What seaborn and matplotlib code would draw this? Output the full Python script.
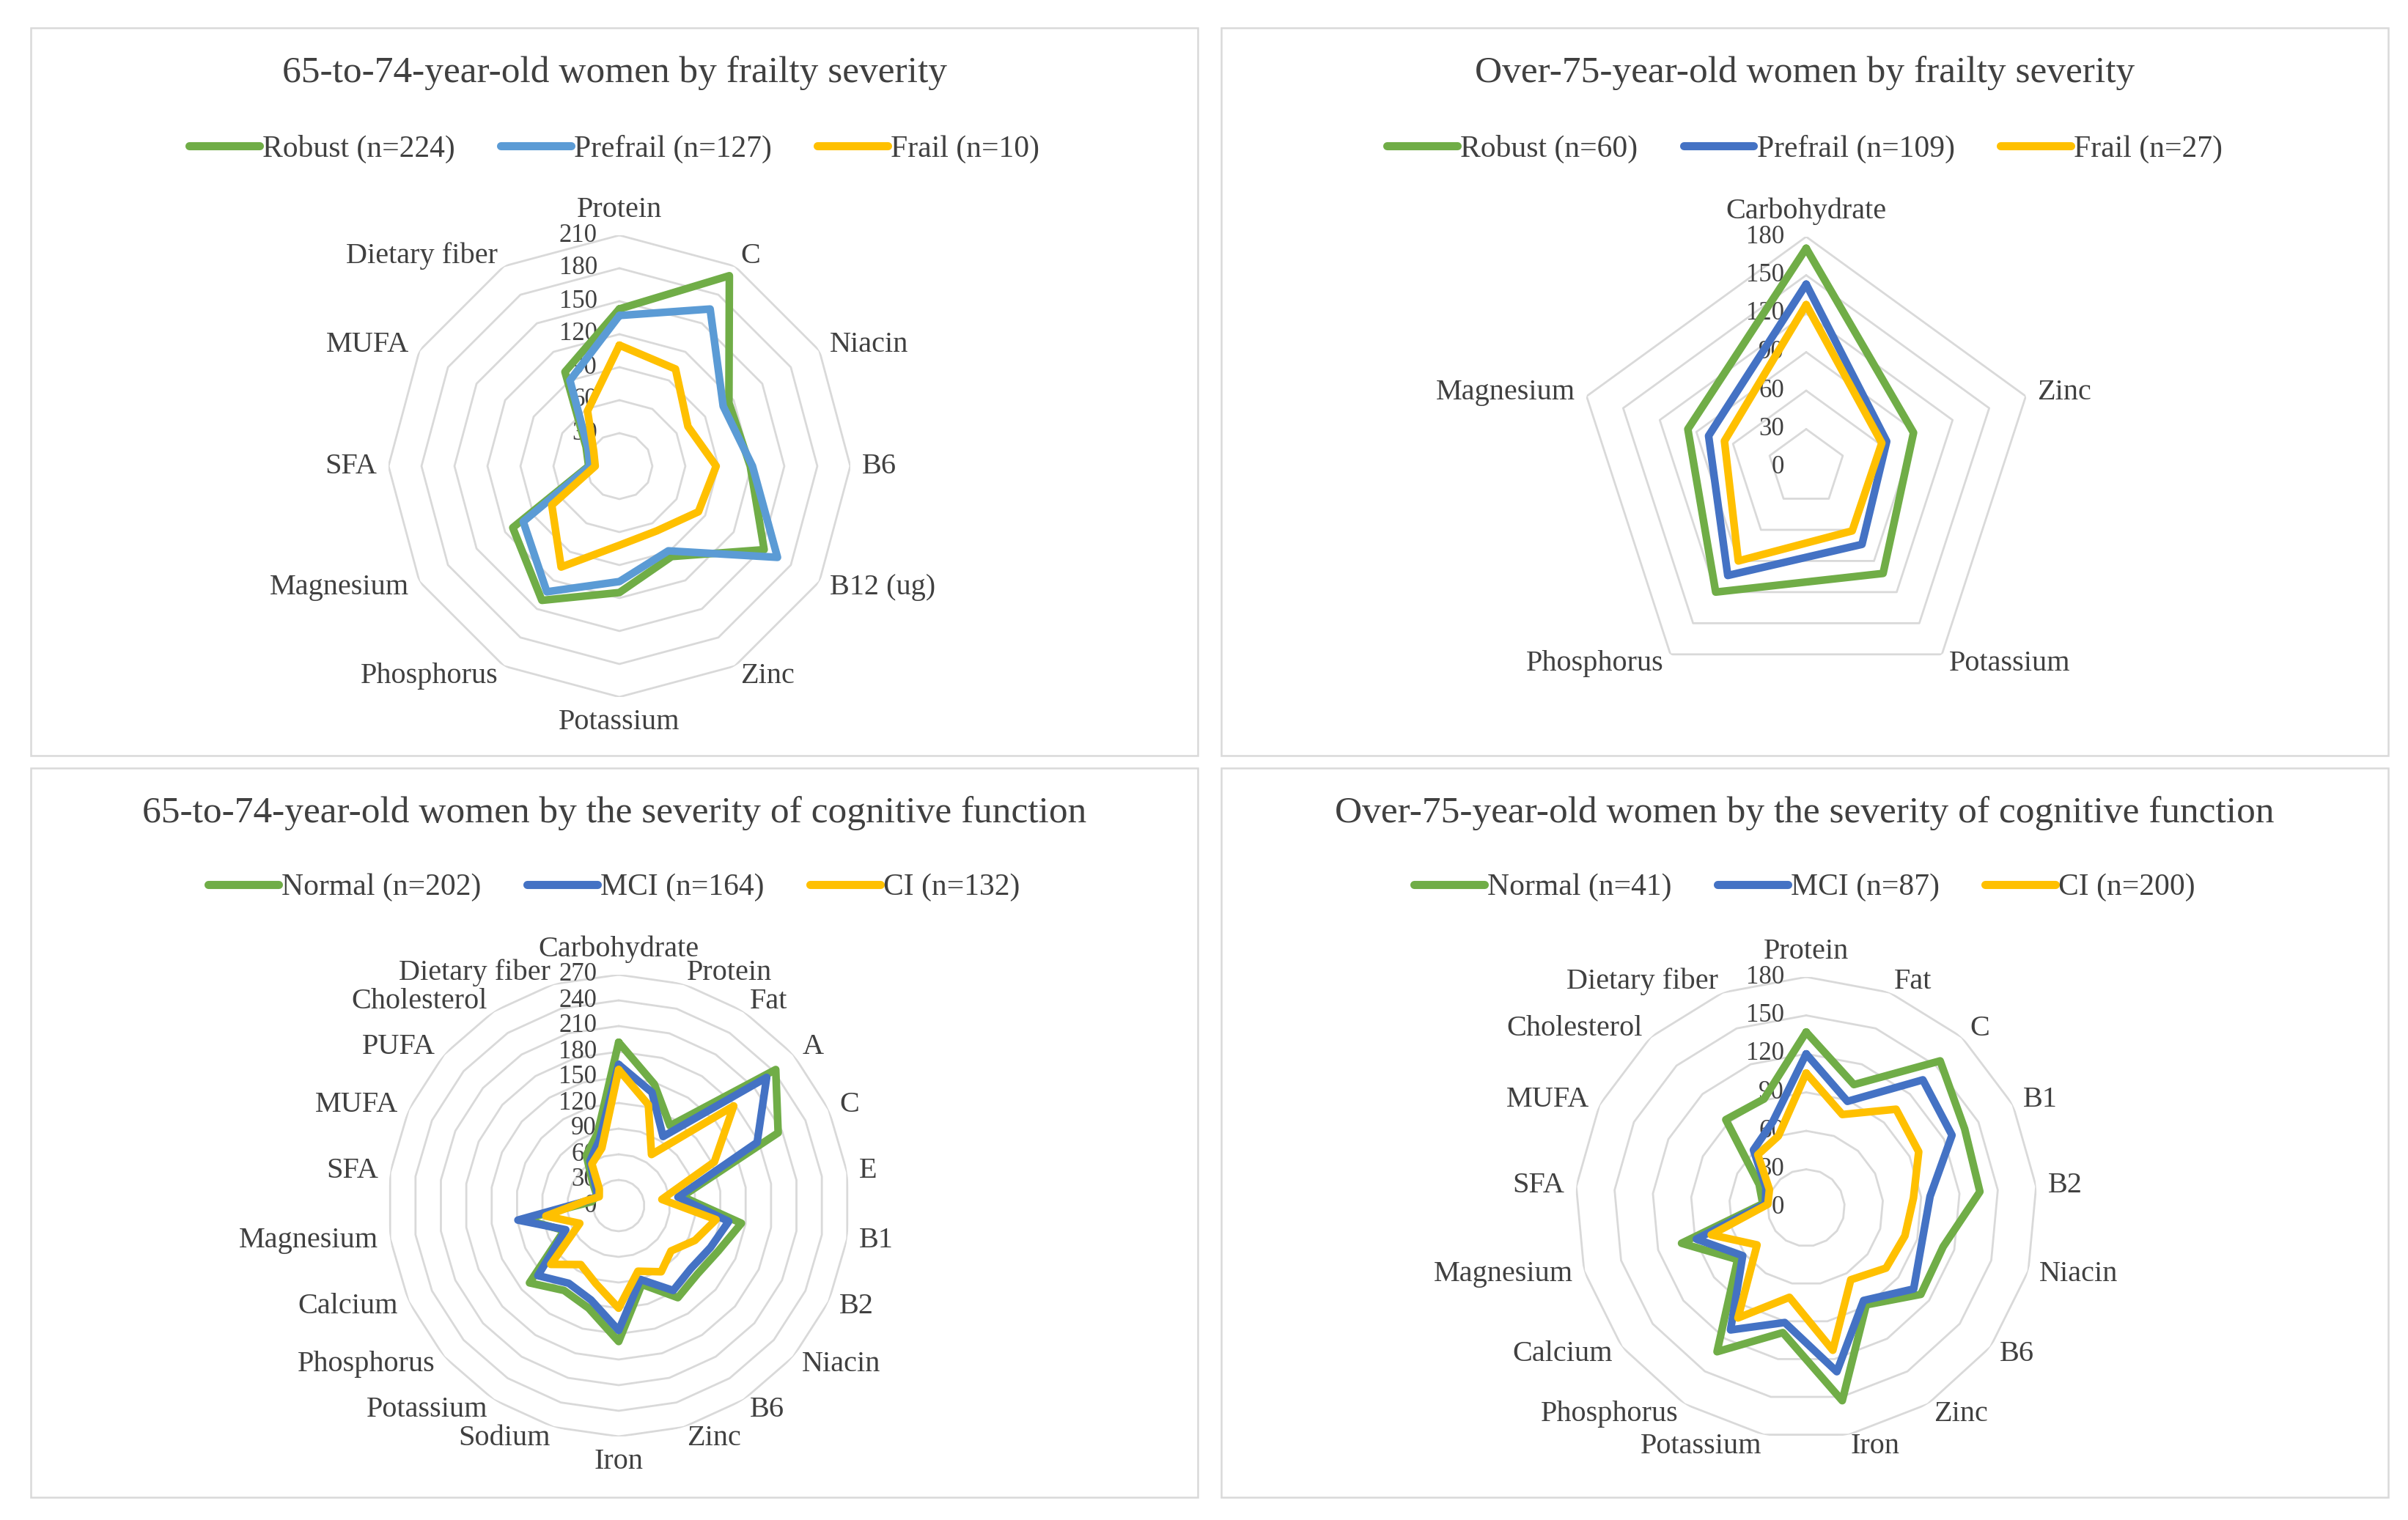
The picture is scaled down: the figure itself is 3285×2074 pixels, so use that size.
import numpy as np
import pandas as pd
import matplotlib
matplotlib.use("Agg")
import matplotlib.pyplot as plt
from matplotlib.lines import Line2D
from matplotlib.patches import Rectangle
from matplotlib.transforms import offset_copy
import seaborn as sns

# =====================
# DATA (% of intake standard)
# =====================
# panel 1: 65-74, frailty
cats_1 = ["Protein", "C", "Niacin", "B6", "B12 (ug)", "Zinc", "Potassium",
          "Phosphorus", "Magnesium", "SFA", "MUFA", "Dietary fiber"]
robust_1 = [143, 200, 115, 119, 152, 95, 115, 141, 112, 28, 35, 99]
prefrail_1 = [137, 165, 109, 121, 166, 89, 105, 132, 101, 27, 33, 90]
frail_1 = [110, 102, 72, 88, 83, 68, 72, 106, 71, 22, 27, 58]
names_1 = ["Robust (n=224)", "Prefrail (n=127)", "Frail (n=10)"]

# panel 2: over 75, frailty
cats_2 = ["Carbohydrate", "Zinc", "Potassium", "Phosphorus", "Magnesium"]
robust_2 = [171, 88, 102, 120, 97]
prefrail_2 = [143, 66, 74, 104, 80]
frail_2 = [127, 62, 61, 90, 67]
names_2 = ["Robust (n=60)", "Prefrail (n=109)", "Frail (n=27)"]

# panel 3: 65-74, cognitive function
cats_3 = ["Carbohydrate", "Protein", "Fat", "A", "C", "E", "B1", "B2", "Niacin",
          "B6", "Zinc", "Iron", "Sodium", "Potassium", "Phosphorus", "Calcium",
          "Magnesium", "SFA", "MUFA", "PUFA", "Cholesterol", "Dietary fiber"]
normal_3 = [191, 148, 111, 243, 205, 75, 145, 128, 122, 128, 96, 159, 125, 118,
            138, 70, 112, 32, 28, 40, 70, 88]
mci_3 = [165, 138, 96, 229, 178, 70, 130, 118, 112, 118, 90, 146, 115, 108,
         125, 68, 119, 38, 27, 36, 62, 80]
ci_3 = [159, 123, 71, 178, 123, 51, 115, 98, 81, 92, 80, 120, 95, 82,
        105, 50, 86, 39, 25, 30, 58, 70]
names_3 = ["Normal (n=202)", "MCI (n=164)", "CI (n=132)"]

# panel 4: over 75, cognitive function
cats_4 = ["Protein", "Fat", "C", "B1", "B2", "Niacin", "B6", "Zinc", "Iron",
          "Potassium", "Phosphorus", "Calcium", "Magnesium", "SFA", "MUFA",
          "Cholesterol", "Dietary fiber"]
normal_4 = [137, 103, 155, 138, 136, 111, 112, 89, 153, 99, 132, 67, 101, 34, 41, 93, 91]
mci_4 = [120, 89, 135, 127, 97, 94, 105, 85, 130, 91, 112, 62, 89, 32, 35, 61, 72]
ci_4 = [105, 78, 104, 98, 84, 80, 78, 66, 113, 71, 101, 48, 77, 30, 32, 56, 60]
names_4 = ["Normal (n=41)", "MCI (n=87)", "CI (n=200)"]

titles = ["65-to-74-year-old women by frailty severity",
          "Over-75-year-old women by frailty severity",
          "65-to-74-year-old women by the severity of cognitive function",
          "Over-75-year-old women by the severity of cognitive function"]
rmax_list = [210, 180, 270, 180]

GREEN = "#70AD47"
BLUE_LIGHT = "#5B9BD5"
BLUE = "#4472C4"
YELLOW = "#FFC000"
GRID = "#D9D9D9"
TXT = "#404040"

# =====================
# FIGURE
# =====================
sns.set_theme(style="white")
plt.rcParams["font.family"] = ["Liberation Serif", "DejaVu Serif"]

W, H = 3285, 2074
fig = plt.figure(figsize=(W / 100, H / 100), dpi=100)
fig.patch.set_facecolor("white")

# panel boxes (pixels: left, top, right, bottom), radar centres and radius
boxes = [(42, 38, 1634, 1031), (1666, 38, 3258, 1031),
         (42, 1048, 1634, 2043), (1666, 1048, 3258, 2043)]
centres = [(845, 636), (2464, 638), (844, 1645), (2464, 1648)]
title_y = [100, 100, 1110, 1110]
legend_y = [203, 203, 1211, 1211]
R = 315

panels = [
    (cats_1, [robust_1, prefrail_1, frail_1], names_1, [GREEN, BLUE_LIGHT, YELLOW]),
    (cats_2, [robust_2, prefrail_2, frail_2], names_2, [GREEN, BLUE, YELLOW]),
    (cats_3, [normal_3, mci_3, ci_3], names_3, [GREEN, BLUE, YELLOW]),
    (cats_4, [normal_4, mci_4, ci_4], names_4, [GREEN, BLUE, YELLOW]),
]


def radar(ax, cats, series, names, colors, rmax):
    n = len(cats)
    theta = np.linspace(0, 2 * np.pi, n, endpoint=False)
    closed = np.append(theta, theta[0])

    # polygon grid rings
    for v in range(30, rmax + 1, 30):
        ax.plot(closed, [v] * (n + 1), color=GRID, lw=2.0, zorder=1)

    rows = []
    for name, vals in zip(names, series):
        for t, v in zip(closed, list(vals) + [vals[0]]):
            rows.append((name, t, v))
    df = pd.DataFrame(rows, columns=["group", "theta", "value"])
    sns.lineplot(data=df, x="theta", y="value", hue="group", hue_order=names,
                 palette=dict(zip(names, colors)), sort=False, estimator=None,
                 lw=7.5, legend=False, ax=ax, zorder=3)

    ax.set_ylim(0, rmax)
    ax.set_xticks([])
    ax.set_yticks([])
    ax.grid(False)
    ax.spines["polar"].set_visible(False)
    ax.set_xlabel("")
    ax.set_ylabel("")
    ax.set_facecolor("none")

    # value labels along the first axis
    tick_tf = offset_copy(ax.transData, fig=fig, x=-30, y=0, units="dots")
    for v in range(0, rmax + 1, 30):
        ax.text(0, v, str(v), transform=tick_tf, ha="right", va="center",
                fontsize=25, color=TXT, zorder=2)

    # category labels
    pad = 16
    for t, c in zip(theta, cats):
        s, co = np.sin(t), np.cos(t)
        ha = "left" if s > 0.15 else ("right" if s < -0.15 else "center")
        if abs(s) <= 0.15:
            va = "bottom" if co > 0 else "top"
        else:
            va = "center"
        tf = offset_copy(ax.transData, fig=fig, x=pad * s, y=pad * co, units="dots")
        ax.text(t, rmax, c, transform=tf, ha=ha, va=va, fontsize=29, color=TXT)


for i, (cats, series, names, colors) in enumerate(panels):
    l, t, r, b = boxes[i]
    fig.add_artist(Rectangle((l / W, 1 - b / H), (r - l) / W, (b - t) / H,
                             transform=fig.transFigure, fill=False,
                             edgecolor=GRID, lw=1.8))
    cx, cy = centres[i]
    ax = fig.add_axes([(cx - R) / W, 1 - (cy + R) / H, 2 * R / W, 2 * R / H],
                      projection="polar")
    ax.set_theta_zero_location("N")
    ax.set_theta_direction(-1)
    radar(ax, cats, series, names, colors, rmax_list[i])

    mid = (l + r) / 2
    fig.text(mid / W, 1 - title_y[i] / H, titles[i], ha="center", va="center",
             fontsize=37, color=TXT)
    handles = [Line2D([0], [0], color=c, lw=8) for c in colors]
    fig.legend(handles, names, loc="center", bbox_to_anchor=(mid / W, 1 - legend_y[i] / H),
               ncol=3, frameon=False, fontsize=30, handlelength=2.3,
               handletextpad=0.1, columnspacing=1.5, labelcolor=TXT)

fig.savefig("out.png", dpi=100, facecolor="white")
